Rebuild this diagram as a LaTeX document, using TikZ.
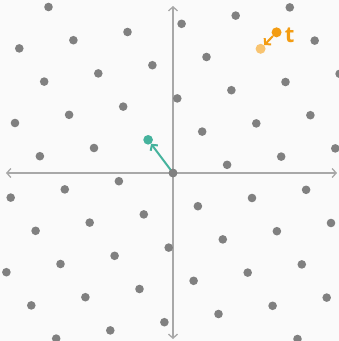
\documentclass[tikz,border=0pt]{standalone}
\usepackage{fontspec}
\setmainfont{Open Sans}
\usetikzlibrary{arrows.meta, positioning}
\definecolor{bgwhite}{HTML}{FAFAFA}
\definecolor{dotgray}{HTML}{808080}
\definecolor{axisgray}{HTML}{A8A8A8}
\definecolor{cteal}{HTML}{45B39D}
\definecolor{corange}{HTML}{F39C12}
\definecolor{lightorange}{HTML}{F8C471}

\tikzset{
  latdot/.style={circle, fill=dotgray, inner sep=0pt, minimum size=8.6pt},
  vecdot/.style={circle, fill=cteal, inner sep=0pt, minimum size=9.6pt},
  closedot/.style={circle, fill=lightorange, inner sep=0pt, minimum size=10pt},
  targetdot/.style={circle, fill=corange, inner sep=0pt, minimum size=10pt},
  axisline/.style={axisgray, line width=1.3pt, {Straight Barb[length=4pt,width=9pt]}-{Straight Barb[length=4pt,width=9pt]}},
  vecarrow/.style={line width=2pt, -{Straight Barb[length=4pt,width=9pt]}}
}

\begin{document}
\begin{tikzpicture}[x={(54.1pt,8.2pt)}, y={(24.9pt,-33.2pt)}]
  \useasboundingbox (-173pt,-168pt) rectangle (166pt,173pt);
  \fill[bgwhite] (-173pt,-168pt) rectangle (166pt,173pt);
  \clip (-173pt,-168pt) rectangle (166pt,173pt);

  % axes
  \coordinate (xl) at (-167pt,0pt);
  \coordinate (xr) at (164pt,0pt);
  \coordinate (yt) at (0pt,167pt);
  \coordinate (yb) at (0pt,-166pt);
  \draw[axisline] (xl) -- (xr);
  \draw[axisline] (yb) -- (yt);

  % lattice points (only those centred in the frame)
  \foreach \a in {-6,...,6}{
    \foreach \b in {-8,...,8}{
      \pgfmathsetmacro{\px}{54.1*\a+24.9*\b}
      \pgfmathsetmacro{\py}{8.2*\a-33.2*\b}
      \pgfmathtruncatemacro{\inside}{(\px>-175)*(\px<168)*(\py>-170)*(\py<173.5)}
      \ifnum\inside=1
        \fill[dotgray] (\a,\b) circle[radius=4.3pt];
      \fi
    }
  }

  % short vector
  \coordinate (o) at (0,0);
  \node[vecdot] (v) at (0,-1) {};
  \draw[vecarrow, cteal] (o) -- (v);
  \node[latdot] (on) at (o) {};

  % target and closest point
  \node[closedot] (cl) at (3,-3) {};
  \node[targetdot] (t) at (3.47,-3.38) {};
  \draw[vecarrow, corange] (t) -- (cl);
  \node[corange, inner sep=0pt, font=\fontsize{22}{24}\selectfont\bfseries, right=3pt of t, yshift=-3pt] (tl) {t};
\end{tikzpicture}
\end{document}
